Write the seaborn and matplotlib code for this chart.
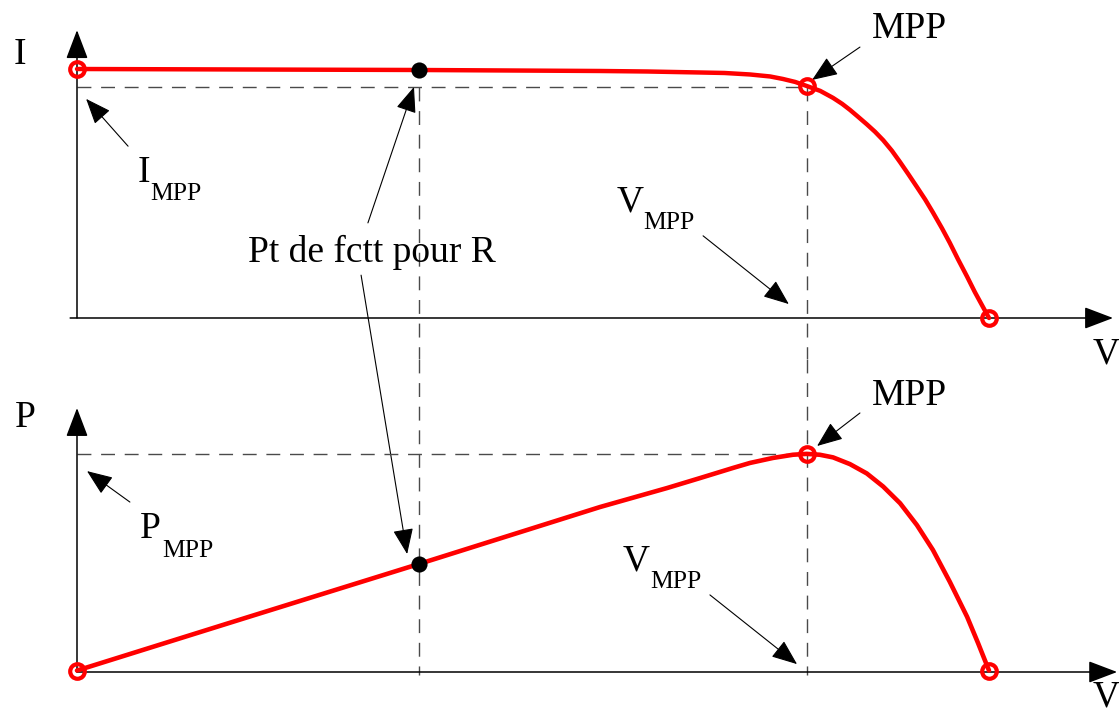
import matplotlib
matplotlib.use("Agg")
import matplotlib.pyplot as plt
import pandas as pd
import seaborn as sns

# ---------------- data ----------------
# I-V characteristic (V in volts, I in amperes)
v_iv = [0.0, 7.5, 11.47, 12.5, 13.66, 14.2, 14.76, 15.2, 15.48, 15.75, 16.0,
        16.3, 16.58, 16.78, 16.95, 17.13, 17.32, 17.5, 17.68, 17.87, 18.05,
        18.23, 18.42, 18.6, 18.77, 18.97, 19.14, 19.32, 19.52, 19.69, 20.0]
i_iv = [5.00, 4.98, 4.96, 4.95, 4.93, 4.92, 4.89, 4.85, 4.80, 4.74, 4.66,
        4.56, 4.42, 4.30, 4.18, 4.04, 3.89, 3.74, 3.57, 3.36, 3.13,
        2.89, 2.63, 2.38, 2.12, 1.80, 1.51, 1.18, 0.83, 0.52, 0.0]
# P-V characteristic (P in watts)
v_pv = [0.0, 3.75, 7.5, 11.47, 12.94, 13.66, 14.39, 14.76, 15.26, 15.42,
        15.7, 16.0, 16.29, 16.58, 16.95, 17.32, 17.68, 18.05, 18.42, 18.77,
        19.14, 19.52, 19.76, 20.0]
p_pv = [0.5, 18.8, 37.0, 56.5, 63.0, 66.4, 69.9, 71.6, 73.3, 73.7,
        74.4, 74.7, 74.4, 73.5, 71.2, 68.0, 63.5, 57.8, 50.3, 41.8,
        30.9, 18.9, 9.9, 0.5]

# special points
v_mpp, i_mpp, p_mpp = 16.0, 4.63, 74.7
i_sc, v_oc = 5.00, 20.0
v_op, i_op, p_op = 7.5, 4.98, 37.0          # operating point with load R
circ_iv_v = [0.0, v_mpp, v_oc]
circ_iv_i = [i_sc, 4.66, 0.0]
circ_pv_v = [0.0, v_mpp, v_oc]
circ_pv_p = [0.5, p_mpp, 0.3]

# labels
lbl_i, lbl_p, lbl_v = "I", "P", "V"
lbl_mpp = "MPP"
lbl_pt = "Pt de fctt pour R"

# ---------------- styling ----------------
RED = "#ff0000"
DASH = "#4a4a4a"
FONT = "Liberation Serif"
FS_MAIN = 27
FS_SUB = 18.5

sns.set_theme(style="white")
plt.rcParams["font.family"] = [FONT, "DejaVu Serif"]

fig = plt.figure(figsize=(11.19, 7.17), dpi=100)
ax_t = fig.add_axes([0, 0.5, 1, 0.5])
ax_b = fig.add_axes([0, 0.0, 1, 0.5])
for ax in (ax_t, ax_b):
    ax.set_xlim(-1.6886, 22.851)
    ax.axis("off")
    ax.patch.set_alpha(0)
ax_t.set_ylim(-0.8133, 6.3855)
ax_b.set_ylim(-15.411, 107.363)

dash_kw = dict(color=DASH, lw=1.0, dashes=(10, 7), zorder=1)
circ_kw = dict(marker="o", linestyle="", markersize=10.5, markerfacecolor="none",
               markeredgecolor=RED, markeredgewidth=3.0, estimator=None, zorder=4)

def arrow(ax, tip, tail, ms=16, hl=1.0, hw=0.4, lw=0.8, **kw):
    ax.annotate("", xy=tip, xytext=tail,
                arrowprops=dict(arrowstyle=f"-|>,head_length={hl},head_width={hw}",
                                color="black", lw=lw, shrinkA=0, shrinkB=0,
                                mutation_scale=ms),
                annotation_clip=False, **kw)

def txt(ax, x, y, s, fs=FS_MAIN):
    ax.text(x, y, s, fontsize=fs, family=[FONT, "DejaVu Serif"],
            ha="left", va="baseline", color="black", clip_on=False)

# ---------------- top: I-V ----------------
df_iv = pd.DataFrame({"V": v_iv, "I": i_iv})
arrow(ax_t, (0, 5.78), (0, 0), ms=18, hl=1.0, hw=0.38, lw=1.1)
arrow(ax_t, (22.72, 0), (-0.15, 0), ms=18, hl=1.0, hw=0.38, lw=1.1)
ax_t.plot([0, v_mpp], [i_mpp, i_mpp], **dash_kw)
ax_t.plot([v_op, v_op], [i_mpp, -0.8133], **dash_kw)
ax_t.plot([v_mpp, v_mpp], [i_mpp, -0.8133], **dash_kw)

sns.lineplot(data=df_iv, x="V", y="I", ax=ax_t, color=RED, lw=3.2,
             estimator=None, sort=False, zorder=3)
sns.lineplot(x=circ_iv_v, y=circ_iv_i, ax=ax_t, **circ_kw)
sns.scatterplot(x=[v_op], y=[i_op], ax=ax_t, color="black", s=135,
                edgecolor="black", linewidth=0, zorder=5)

txt(ax_t, -1.40, 5.10, lbl_i)
txt(ax_t, 22.28, -0.92, lbl_v)
txt(ax_t, 17.43, 5.62, lbl_mpp)
arrow(ax_t, (16.12, 4.78), (17.17, 5.44))
txt(ax_t, 1.34, 2.73, "I")
txt(ax_t, 1.60, 2.37, lbl_mpp, FS_SUB)
arrow(ax_t, (0.20, 4.40), (1.12, 3.45))
txt(ax_t, 11.84, 2.13, "V")
txt(ax_t, 12.41, 1.79, lbl_mpp, FS_SUB)
arrow(ax_t, (15.61, 0.28), (13.73, 1.65))
txt(ax_t, 3.75, 1.12, lbl_pt)
arrow(ax_t, (7.39, 4.64), (6.38, 1.91))
# arrow from the label down to the operating point on the P-V curve
ax_t.annotate("", xy=(7.24, 40.4), xycoords=ax_b.transData,
              xytext=(6.23, 0.86), textcoords="data",
              arrowprops=dict(arrowstyle="-|>,head_length=1.0,head_width=0.4",
                              color="black", lw=0.8, shrinkA=0, shrinkB=0,
                              mutation_scale=16),
              annotation_clip=False)

# ---------------- bottom: P-V ----------------
df_pv = pd.DataFrame({"V": v_pv, "P": p_pv})
arrow(ax_b, (0, 90.4), (0, 0), ms=18, hl=1.0, hw=0.38, lw=1.1)
arrow(ax_b, (22.81, 0), (0, 0), ms=18, hl=1.0, hw=0.38, lw=1.1)
ax_b.plot([0, v_mpp], [p_mpp, p_mpp], **dash_kw)
ax_b.plot([v_op, v_op], [107.363, -1.0], **dash_kw)
ax_b.plot([v_mpp, v_mpp], [107.363, -1.0], **dash_kw)

sns.lineplot(data=df_pv, x="V", y="P", ax=ax_b, color=RED, lw=3.3,
             estimator=None, sort=False, zorder=3)
sns.lineplot(x=circ_pv_v, y=circ_pv_p, ax=ax_b, **circ_kw)
sns.scatterplot(x=[v_op], y=[p_op], ax=ax_b, color="black", s=135,
                edgecolor="black", linewidth=0, zorder=5)

txt(ax_b, -1.36, 83.9, lbl_p)
txt(ax_b, 22.28, -11.8, lbl_v)
txt(ax_b, 17.43, 91.4, lbl_mpp)
arrow(ax_b, (16.23, 77.4), (17.17, 88.7))
txt(ax_b, 1.38, 45.9, "P")
txt(ax_b, 1.86, 39.4, lbl_mpp, FS_SUB)
arrow(ax_b, (0.22, 68.8), (1.16, 58.2))
txt(ax_b, 11.97, 34.9, "V")
txt(ax_b, 12.57, 28.8, lbl_mpp, FS_SUB)
arrow(ax_b, (15.79, 2.7), (13.88, 26.4))

for ax in (ax_t, ax_b):
    leg = ax.get_legend()
    if leg is not None:
        leg.remove()

fig.savefig("out.png", dpi=100, facecolor="white")
